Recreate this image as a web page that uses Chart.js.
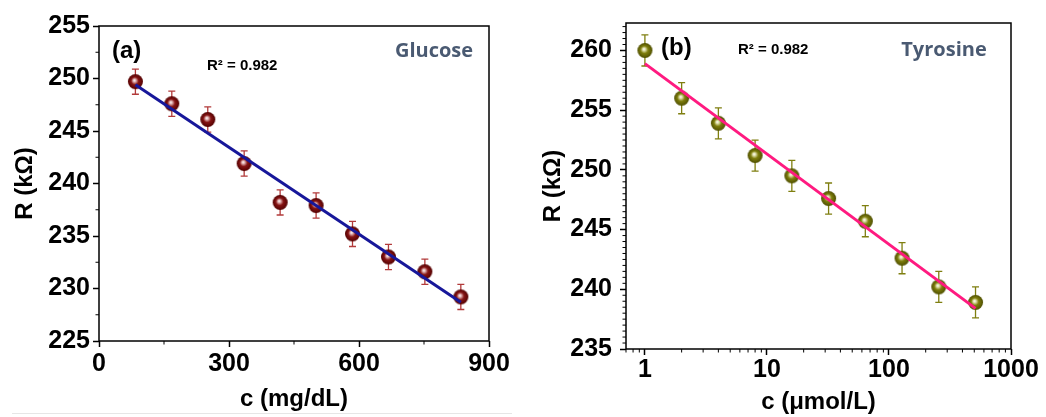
<!DOCTYPE html>
<html>
<head>
<meta charset="utf-8">
<script src="https://cdn.jsdelivr.net/npm/chart.js@4"></script>
<style>
  body { margin: 0; background: #fff; }
  #wrap { position: relative; width: 1046px; height: 417px; overflow: hidden; }
  #chartA { position: absolute; left: 0; top: 0; }
  #chartB { position: absolute; left: 520px; top: 0; }
  #rule { position: absolute; left: 12px; top: 413px; width: 500px; border-top: 1px solid #e6e6e6; }
</style>
</head>
<body>
<div id="wrap">
  <canvas id="chartA" width="520" height="417"></canvas>
  <canvas id="chartB" width="526" height="417"></canvas>
  <div id="rule"></div>
</div>
<script>
// (a) glucose
const glucoseConc = [84, 168, 251, 335, 418, 501, 585, 668, 752, 835];
const glucoseR = [249.7, 247.6, 246.1, 241.9, 238.2, 237.9, 235.2, 233.0, 231.6, 229.2];
const glucoseErr = [1.2, 1.2, 1.2, 1.2, 1.2, 1.2, 1.2, 1.2, 1.2, 1.2];
const glucoseFitConc = [84, 835];
const glucoseFitR = [249.4, 228.7];

// (b) tyrosine
const tyrosineConc = [1, 2, 4, 8, 16, 32, 64, 128, 256, 512];
const tyrosineR = [260.0, 256.0, 253.9, 251.2, 249.5, 247.6, 245.7, 242.6, 240.2, 238.9];
const tyrosineErr = [1.3, 1.3, 1.3, 1.3, 1.3, 1.3, 1.3, 1.3, 1.3, 1.3];
const tyrosineFitConc = [1, 512];
const tyrosineFitR = [258.9, 238.4];

const glucoseXTicks = [0, 300, 600, 900];
const tyrosineXTicks = [1, 10, 100, 1000];

const toPts = (xs, ys) => xs.map((x, i) => ({ x: x, y: ys[i] }));

// shaded ball used as point style
function makeBall(r, light, mid, dark) {
  const c = document.createElement('canvas');
  c.width = c.height = Math.ceil(2 * r + 2);
  const g = c.getContext('2d');
  const cx = c.width / 2, cy = c.height / 2;
  const grad = g.createRadialGradient(cx - r * 0.15, cy - r * 0.2, 0, cx, cy, r);
  grad.addColorStop(0, '#ffffff');
  grad.addColorStop(0.18, light);
  grad.addColorStop(0.5, mid);
  grad.addColorStop(1, dark);
  g.fillStyle = grad;
  g.beginPath();
  g.arc(cx, cy, r, 0, Math.PI * 2);
  g.fill();
  return c;
}

const errorBars = {
  id: 'errorBars',
  beforeDatasetsDraw(chart) {
    const ctx = chart.ctx;
    const y = chart.scales.y;
    chart.data.datasets.forEach((ds, i) => {
      if (!ds.errors) return;
      const meta = chart.getDatasetMeta(i);
      ctx.save();
      ctx.strokeStyle = ds.errorColor;
      ctx.lineWidth = 1.3;
      meta.data.forEach((el, j) => {
        const v = ds.data[j].y, e = ds.errors[j];
        const top = y.getPixelForValue(v + e), bot = y.getPixelForValue(v - e);
        ctx.beginPath();
        ctx.moveTo(el.x, top); ctx.lineTo(el.x, bot);
        ctx.moveTo(el.x - 3.5, top); ctx.lineTo(el.x + 3.5, top);
        ctx.moveTo(el.x - 3.5, bot); ctx.lineTo(el.x + 3.5, bot);
        ctx.stroke();
      });
      ctx.restore();
    });
  }
};

const frame = {
  id: 'frame',
  afterDraw(chart, args, opts) {
    const { ctx, chartArea: a, scales } = chart;
    ctx.save();
    ctx.strokeStyle = '#000';
    ctx.lineWidth = 1.5;
    ctx.strokeRect(a.left, a.top, a.right - a.left, a.bottom - a.top);
    ctx.lineWidth = 1;
    ctx.beginPath();
    (opts.xMinor || []).forEach(v => {
      const p = scales.x.getPixelForValue(v);
      ctx.moveTo(p, a.bottom); ctx.lineTo(p, a.bottom + 3.5);
    });
    (opts.yMinor || []).forEach(v => {
      const p = scales.y.getPixelForValue(v);
      ctx.moveTo(a.left - 3.5, p); ctx.lineTo(a.left, p);
    });
    ctx.stroke();
    (opts.notes || []).forEach(n => {
      ctx.font = n.font;
      ctx.fillStyle = n.color || '#000';
      ctx.textAlign = n.align || 'left';
      ctx.textBaseline = 'middle';
      ctx.fillText(n.text, n.x, n.y);
    });
    ctx.restore();
  }
};

const tickFont = { family: 'Liberation Sans, Arial, sans-serif', size: 25, weight: 'bold' };
const titleFont = { family: 'Liberation Sans, Arial, sans-serif', size: 24, weight: 'bold' };
const majorGrid = { drawOnChartArea: false, drawTicks: true, tickLength: 6, tickColor: '#000', tickWidth: 1.5 };

function buildChart(el, cfg) {
  return new Chart(document.getElementById(el), {
    type: 'scatter',
    data: {
      datasets: [
        {
          type: 'line',
          data: toPts(cfg.fitX, cfg.fitY),
          borderColor: cfg.lineColor,
          borderWidth: 3,
          pointRadius: 0,
          fill: false,
          order: 0
        },
        {
          data: toPts(cfg.x, cfg.y),
          errors: cfg.err,
          errorColor: cfg.errColor,
          pointStyle: cfg.ball,
          order: 1
        }
      ]
    },
    options: {
      responsive: false,
      animation: false,
      devicePixelRatio: 1,
      layout: { padding: cfg.padding },
      plugins: {
        legend: { display: false },
        tooltip: { enabled: false },
        frame: { xMinor: cfg.xMinor, yMinor: cfg.yMinor, notes: cfg.notes }
      },
      scales: {
        x: cfg.xScale,
        y: cfg.yScale
      }
    },
    plugins: [errorBars, frame]
  });
}

// minor tick positions
const aXMinor = [150, 450, 750];
const aYMinor = [227.5, 232.5, 237.5, 242.5, 247.5, 252.5];
const bXMinor = [];
[0.1, 1, 10, 100].forEach(d => {
  for (let k = 2; k <= 9; k++) {
    const v = k * d;
    if (v >= 0.7 && v < 1000) bXMinor.push(v);
  }
});
const bYMinor = [];
for (let v = 235.5; v <= 262.2; v += 0.5) {
  if (Math.abs(v % 5) > 0.01) bYMinor.push(v);
}

buildChart('chartA', {
  x: glucoseConc, y: glucoseR, err: glucoseErr,
  fitX: glucoseFitConc, fitY: glucoseFitR,
  lineColor: '#17179a', errColor: '#b23a3a',
  ball: makeBall(7.5, '#e6bcbc', '#861414', '#520000'),
  padding: { top: 26, right: 31, left: 0, bottom: 0 },
  xMinor: aXMinor, yMinor: aYMinor,
  notes: [
    { text: '(a)', x: 112, y: 51, font: 'bold 24px Liberation Sans, Arial' },
    { text: 'R² = 0.982', x: 207, y: 66, font: 'bold 15px Liberation Sans, Arial' },
    { text: 'Glucose', x: 434, y: 51, align: 'center', color: '#4a5a72', font: 'bold 20px Open Sans, sans-serif' }
  ],
  xScale: {
    type: 'linear', min: 0, max: 900,
    afterFit: s => { s.height = 76; },
    afterBuildTicks: s => { s.ticks = glucoseXTicks.map(v => ({ value: v })); },
    border: { display: false },
    grid: majorGrid,
    ticks: { font: tickFont, color: '#000', padding: 2, maxRotation: 0, autoSkip: false },
    title: { display: true, text: 'c (mg/dL)', font: titleFont, color: '#000', padding: { top: 0, bottom: 3 } }
  },
  yScale: {
    type: 'linear', min: 225, max: 255,
    afterFit: s => { s.width = 99; },
    border: { display: false },
    grid: majorGrid,
    ticks: { stepSize: 5, font: tickFont, color: '#000', padding: 3 },
    title: { display: true, text: 'R (kΩ)', font: titleFont, color: '#000', padding: { top: 11, bottom: 0 } }
  }
});

buildChart('chartB', {
  x: tyrosineConc, y: tyrosineR, err: tyrosineErr,
  fitX: tyrosineFitConc, fitY: tyrosineFitR,
  lineColor: '#ff1a80', errColor: '#7f7f10',
  ball: makeBall(7.5, '#e4e4b4', '#7e7e0c', '#4e4e00'),
  padding: { top: 23, right: 35, left: 0, bottom: 0 },
  xMinor: bXMinor, yMinor: bYMinor,
  notes: [
    { text: '(b)', x: 141, y: 48, font: 'bold 24px Liberation Sans, Arial' },
    { text: 'R² = 0.982', x: 218, y: 50, font: 'bold 15px Liberation Sans, Arial' },
    { text: 'Tyrosine', x: 424, y: 50, align: 'center', color: '#4a5a72', font: 'bold 20px Open Sans, sans-serif' }
  ],
  xScale: {
    type: 'logarithmic', min: 0.7, max: 1000,
    afterFit: s => { s.height = 68; },
    afterBuildTicks: s => { s.ticks = tyrosineXTicks.map(v => ({ value: v })); },
    border: { display: false },
    grid: majorGrid,
    ticks: { font: tickFont, color: '#000', padding: 0, maxRotation: 0, autoSkip: false, callback: v => String(v) },
    title: { display: true, text: 'c (μmol/L)', font: titleFont, color: '#000', padding: { top: 0, bottom: 0 } }
  },
  yScale: {
    type: 'linear', min: 235, max: 262.3,
    afterFit: s => { s.width = 106; },
    border: { display: false },
    grid: majorGrid,
    ticks: { stepSize: 5, includeBounds: false, font: tickFont, color: '#000', padding: 8 },
    title: { display: true, text: 'R (kΩ)', font: titleFont, color: '#000', padding: { top: 19, bottom: 0 } }
  }
});
</script>
</body>
</html>
